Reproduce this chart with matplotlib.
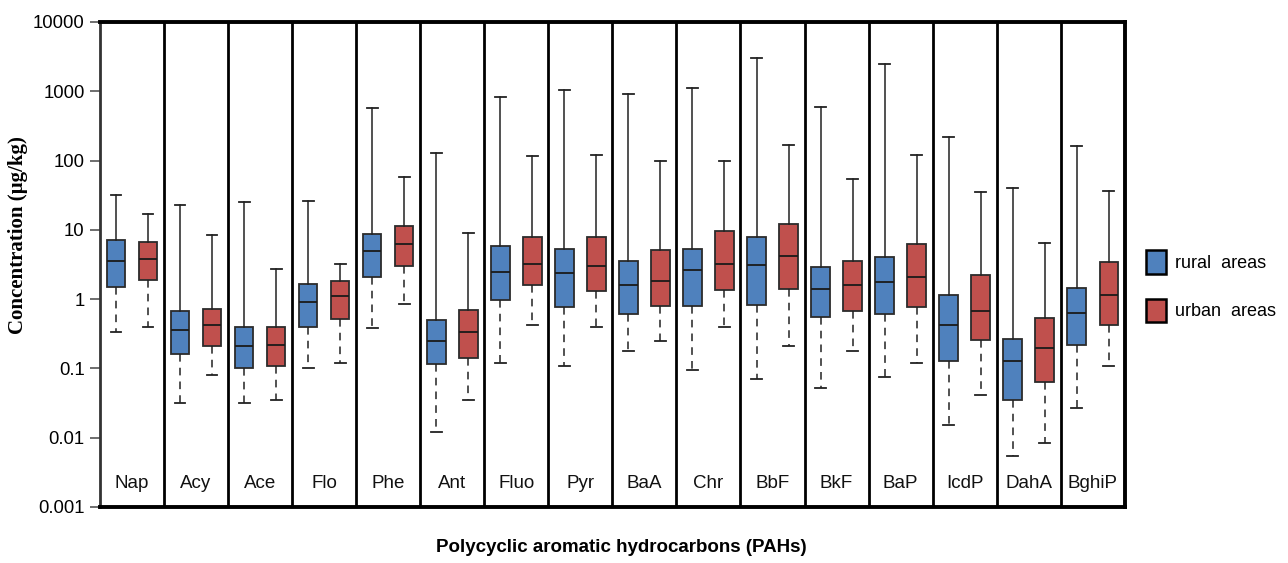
import numpy as np
import matplotlib
matplotlib.use("Agg")
import matplotlib.pyplot as plt
from matplotlib.patches import Patch

pahs = ['Nap', 'Acy', 'Ace', 'Flo', 'Phe', 'Ant', 'Fluo', 'Pyr',
        'BaA', 'Chr', 'BbF', 'BkF', 'BaP', 'IcdP', 'DahA', 'BghiP']

# rural areas: lower whisker, Q1, median, Q3, upper whisker
rural_low = [0.33, 0.032, 0.032, 0.10, 0.38, 0.012, 0.12, 0.11,
             0.18, 0.095, 0.07, 0.053, 0.075, 0.015, 0.0055, 0.027]
rural_q1 = [1.5, 0.16, 0.10, 0.40, 2.1, 0.115, 0.98, 0.78,
            0.60, 0.80, 0.82, 0.55, 0.60, 0.13, 0.035, 0.22]
rural_med = [3.6, 0.36, 0.21, 0.92, 4.9, 0.25, 2.5, 2.4,
             1.6, 2.6, 3.1, 1.4, 1.75, 0.43, 0.13, 0.63]
rural_q3 = [7.2, 0.68, 0.39, 1.65, 8.6, 0.50, 5.8, 5.3,
            3.5, 5.3, 8.0, 2.9, 4.1, 1.15, 0.27, 1.45]
rural_high = [32, 23, 25, 26, 570, 130, 830, 1050,
              920, 1100, 3000, 600, 2500, 220, 40, 160]

# urban areas
urban_low = [0.40, 0.08, 0.035, 0.12, 0.85, 0.035, 0.43, 0.39,
             0.25, 0.40, 0.21, 0.18, 0.12, 0.042, 0.0085, 0.11]
urban_q1 = [1.9, 0.21, 0.11, 0.52, 3.0, 0.14, 1.6, 1.3,
            0.80, 1.35, 1.4, 0.68, 0.78, 0.26, 0.064, 0.42]
urban_med = [3.8, 0.42, 0.22, 1.1, 6.3, 0.33, 3.2, 3.0,
             1.85, 3.2, 4.2, 1.6, 2.1, 0.68, 0.20, 1.15]
urban_q3 = [6.6, 0.72, 0.39, 1.8, 11.5, 0.70, 8.0, 7.8,
            5.2, 9.5, 12.0, 3.6, 6.3, 2.2, 0.54, 3.4]
urban_high = [17, 8.5, 2.7, 3.2, 58, 9.0, 115, 120,
              100, 100, 165, 55, 120, 35, 6.5, 36]

blue = '#4F81BD'
red = '#C0504D'


def make_stats(low, q1, med, q3, high):
    return [dict(whislo=a, q1=b, med=c, q3=d, whishi=e, fliers=[])
            for a, b, c, d, e in zip(low, q1, med, q3, high)]


fig = plt.figure(figsize=(12.88, 5.63), dpi=100)
ax = fig.add_axes([0.0776, 0.0995, 0.7957, 0.8615])

n = len(pahs)
x = np.arange(n)

for stats, pos, color in [
        (make_stats(rural_low, rural_q1, rural_med, rural_q3, rural_high), x - 0.25, blue),
        (make_stats(urban_low, urban_q1, urban_med, urban_q3, urban_high), x + 0.25, red)]:
    bp = ax.bxp(stats, positions=pos, widths=0.29, capwidths=0.17,
                patch_artist=True, showfliers=False,
                boxprops=dict(facecolor=color, edgecolor='#2b2b2b', linewidth=1.3),
                medianprops=dict(color='#1a1a1a', linewidth=1.3),
                whiskerprops=dict(color='#222222', linewidth=1.1),
                capprops=dict(color='#222222', linewidth=1.3))
    # lower whiskers dashed, upper solid
    for i, w in enumerate(bp['whiskers']):
        if i % 2 == 0:
            w.set_linestyle((0, (5, 4)))

# group separators
for s in np.arange(0.5, n - 1, 1):
    ax.axvline(s, color='black', linewidth=2)

# category labels inside the plot
for i, name in enumerate(pahs):
    ax.text(i, 0.0022, name, ha='center', va='center', fontsize=13.5,
            family='Liberation Sans', color='#111111')

ax.set_yscale('log')
ax.set_ylim(0.001, 10000)
ax.set_xlim(-0.5, n - 0.5)
ax.set_yticks([0.001, 0.01, 0.1, 1, 10, 100, 1000, 10000])
ax.set_yticklabels(['0.001', '0.01', '0.1', '1', '10', '100', '1000', '10000'],
                   family='Liberation Sans', fontsize=13.3)
ax.yaxis.set_minor_locator(matplotlib.ticker.NullLocator())
ax.set_xticks([])
ax.tick_params(axis='y', length=7, width=1.2, direction='out', color='#555555', pad=4)

for side in ['top', 'bottom', 'right']:
    ax.spines[side].set_linewidth(2.8)
ax.spines['left'].set_linewidth(2)
ax.spines['left'].set_color('#333333')

ax.set_ylabel('Concentration (µg/kg)', family='Liberation Serif',
              fontweight='bold', fontsize=15, labelpad=8)
ax.yaxis.set_label_coords(-0.07, 0.56)
ax.set_xlabel('Polycyclic aromatic hydrocarbons (PAHs)', family='Liberation Sans',
              fontweight='bold', fontsize=13.5)
ax.xaxis.set_label_coords(0.509, -0.065)

handles = [Patch(facecolor=blue, edgecolor='black', linewidth=1.8, label='rural  areas'),
           Patch(facecolor=red, edgecolor='black', linewidth=1.8, label='urban  areas')]
leg = ax.legend(handles=handles, loc='center left', bbox_to_anchor=(1.005, 0.455),
                frameon=False, handlelength=1.1, handleheight=1.6,
                labelspacing=1.4, handletextpad=0.5,
                prop=dict(family='Liberation Sans', size=13))

fig.savefig('out.png', dpi=100)
